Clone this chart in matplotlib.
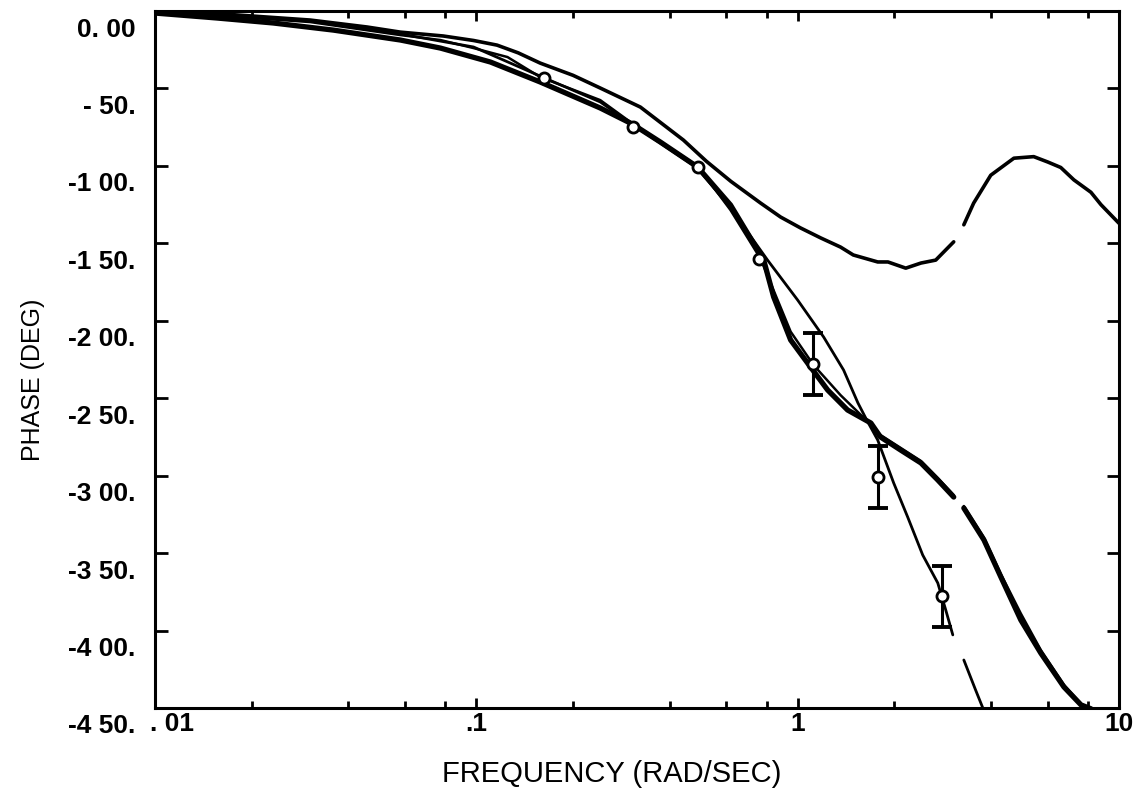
import numpy as np
import matplotlib
matplotlib.use("Agg")
import matplotlib.pyplot as plt
from matplotlib.transforms import ScaledTranslation

plt.rcParams['font.family'] = ['Liberation Sans', 'DejaVu Sans']

# Frequency response phase curves (rad/s, deg); NaN marks a break in the trace
freq_1 = [0.01, 0.0163, 0.0304, 0.0457, 0.058, 0.0789, 0.098, 0.116, 0.135, 0.158, 0.2, 0.243, 0.324,
          0.441, 0.52, 0.62, 0.767, 0.885, 1.02, 1.18, 1.36, 1.49, 1.775, 1.91, 2.17, 2.42, 2.69,
          3.06, np.nan, 3.29, 3.53, 3.99, 4.71, 5.43, 6.01, 6.59, 7.24, 8.18, 8.79, 10.0]
phase_1 = [0.0, -1.9, -5.8, -10.3, -13.6, -16.1, -19.0, -22.0, -27.0, -33.6, -41.5, -49.7, -62.0,
           -83.3, -97.0, -110.0, -124.0, -133.0, -140.0, -146.5, -152.4, -157.5, -162.0, -162.0, -166.0, -162.7, -160.8,
           -149.0, np.nan, -138.0, -124.0, -106.0, -95.0, -94.0, -97.5, -101.0, -109.0, -117.0, -125.0, -137.0]

freq_2 = [0.01, 0.0156, 0.0233, 0.0359, 0.058, 0.0773, 0.1106, 0.158, 0.243, 0.306,
          0.374, 0.488, 0.618, 0.784, 0.842, 0.951, 1.074, 1.24, 1.43, 1.69, 1.81, 2.09,
          2.42, 2.73, 3.06, np.nan, 3.29, 3.80, 4.29, 4.95, 5.71, 6.74, 7.62, 8.18, 8.6]
phase_2 = [-1.3, -4.5, -7.7, -12.3, -18.7, -23.9, -32.9, -45.8, -62.6, -73.0,
           -84.6, -100.7, -125.2, -160.8, -184.6, -212.4, -227.3, -244.7, -257.6, -266.0, -275.0, -283.4,
           -291.8, -302.8, -313.8, np.nan, -320.9, -341.5, -365.4, -393.2, -414.5, -436.4, -448.0, -450.5, -455.0]

freq_3 = [0.01, 0.0163, 0.0304, 0.058, 0.0773, 0.098, 0.125, 0.158, 0.243, 0.308,
          0.488, 0.618, 0.767, 0.951, 1.12, 1.36, 1.61, 1.81, 2.09, 2.42, 2.73, 3.06,
          np.nan, 3.29, 3.80, 4.29, 4.95, 5.71, 6.74, 7.62, 8.47]
phase_3 = [-0.6, -3.2, -7.1, -15.5, -18.7, -23.9, -29.7, -42.6, -57.5, -73.0,
           -100.0, -128.5, -160.0, -207.0, -228.5, -248.0, -262.8, -273.7, -282.0, -290.5, -301.5, -312.5,
           np.nan, -319.6, -340.0, -363.5, -389.0, -412.5, -435.0, -447.4, -452.6]

freq_4 = [0.01, 0.0163, 0.0304, 0.058, 0.098, 0.158, 0.243, 0.308, 0.488, 0.618,
          0.806, 1.0, 1.205, 1.39, 1.54, 1.64, 1.775, 1.99, 2.20, 2.45, 2.73, 2.89, 3.04,
          np.nan, 3.29, 3.58, 3.77, 3.86]
phase_4 = [-0.6, -2.6, -6.5, -14.8, -23.2, -42.0, -58.7, -73.6, -101.4, -127.2,
           -160.8, -186.6, -210.5, -231.8, -253.0, -264.0, -277.0, -304.7, -326.7, -351.2, -369.3, -386.7, -402.8,
           np.nan, -419.0, -438.4, -450.0, -455.0]

# Measured points with uncertainty
meas_freq = [0.162, 0.308, 0.488, 0.756, 1.12, 1.775, 2.81]
meas_phase = [-43.0, -75.0, -101.0, -160.0, -228.0, -301.0, -378.0]
meas_err = [0.0, 0.0, 0.0, 0.0, 20.0, 20.0, 20.0]

y_ticks = [0, -50, -100, -150, -200, -250, -300, -350, -400, -450]
y_tick_labels = ["0. 00", "- 50.", "-1 00.", "-1 50.", "-2 00.", "-2 50.",
                 "-3 00.", "-3 50.", "-4 00.", "-4 50."]
x_ticks = [0.01, 0.1, 1, 10]
x_tick_labels = [". 01", ".1", "1", "10"]

fig = plt.figure(figsize=(11.46, 7.90), dpi=100)
ax = fig.add_axes([0.1353, 0.1038, 0.8411, 0.8822])

line_kw = dict(color='black', solid_capstyle='round', solid_joinstyle='round')
ax.plot(freq_1, phase_1, lw=2.6, **line_kw)
ax.plot(freq_2, phase_2, lw=3.8, **line_kw)
ax.plot(freq_3, phase_3, lw=1.8, **line_kw)
ax.plot(freq_4, phase_4, lw=2.0, **line_kw)

err_idx = [i for i, e in enumerate(meas_err) if e > 0]
ax.errorbar([meas_freq[i] for i in err_idx], [meas_phase[i] for i in err_idx],
            yerr=[meas_err[i] for i in err_idx], fmt='none', ecolor='black',
            elinewidth=2.2, capsize=7, capthick=2.8, zorder=4)
ax.plot(meas_freq, meas_phase, linestyle='none', marker='o', markersize=8,
        markerfacecolor='white', markeredgecolor='black', markeredgewidth=2.0, zorder=5)

ax.set_xscale('log')
ax.set_xlim(0.01, 10)
ax.set_ylim(-450, 0)

ax.set_xticks(x_ticks)
ax.set_xticklabels(x_tick_labels)
ax.xaxis.set_minor_locator(matplotlib.ticker.LogLocator(base=10, subs=[2, 4, 6, 8]))
ax.xaxis.set_minor_formatter(matplotlib.ticker.NullFormatter())
ax.set_yticks(y_ticks)
ax.set_yticklabels(y_tick_labels)

ax.tick_params(axis='both', which='both', direction='in', top=True, right=True,
               width=2.0, colors='black')
ax.tick_params(axis='y', which='major', length=9, pad=14, labelsize=19)
ax.tick_params(axis='x', which='major', length=7, pad=3, labelsize=19)
ax.tick_params(axis='x', which='minor', length=5)

for lbl in ax.get_yticklabels() + ax.get_xticklabels():
    lbl.set_fontweight('bold')
for lbl in ax.get_yticklabels():
    lbl.set_transform(lbl.get_transform() + ScaledTranslation(0, -0.16, fig.dpi_scale_trans))
first_x = ax.get_xticklabels()[0]
first_x.set_horizontalalignment('left')
first_x.set_transform(first_x.get_transform() + ScaledTranslation(-0.05, 0, fig.dpi_scale_trans))

for sp in ax.spines.values():
    sp.set_linewidth(2.2)

ax.set_xlabel("FREQUENCY (RAD/SEC)", fontsize=21)
ax.xaxis.set_label_coords(0.474, -0.075)
ax.set_ylabel("PHASE (DEG)", fontsize=18)
ax.yaxis.set_label_coords(-0.114, 0.471)

fig.savefig("out.png", dpi=100)
